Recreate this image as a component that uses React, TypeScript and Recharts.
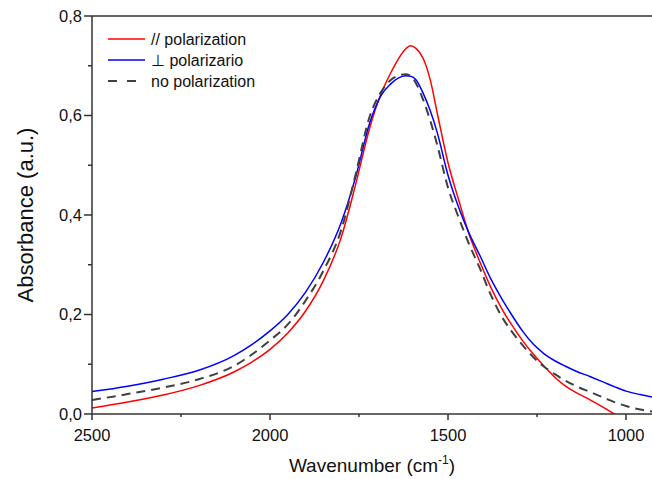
import type { ReactNode } from 'react';
import { Legend, Line, LineChart, ReferenceLine, XAxis, YAxis } from 'recharts';

const FONT = '"Liberation Sans", Arial, sans-serif';
const AXIS = '#333333';

// wavenumber grid (cm-1)
const wavenumbers = [
  2500, 2400, 2300, 2200, 2100, 2050, 2000, 1950, 1900, 1850, 1800, 1760, 1720, 1690, 1660, 1640,
  1620, 1605, 1590, 1570, 1550, 1530, 1500, 1470, 1440, 1410, 1380, 1350, 1320, 1290, 1260,
  1230, 1200, 1170, 1140, 1100, 1060, 1033, 1000, 960, 927,
];

const parallel = [
  0.012, 0.024, 0.038, 0.057, 0.085, 0.105, 0.13, 0.163, 0.207, 0.268, 0.355, 0.46, 0.575, 0.64, 0.687, 0.713,
  0.733, 0.74, 0.735, 0.715, 0.672, 0.604, 0.505, 0.43, 0.36, 0.305, 0.255, 0.213, 0.178, 0.147, 0.12,
  0.096, 0.074, 0.056, 0.043, 0.028, 0.012, 0.0, null, null, null,
];

const perpendicular = [
  0.045, 0.056, 0.07, 0.088, 0.118, 0.14, 0.167, 0.2, 0.245, 0.305, 0.385, 0.475, 0.585, 0.638, 0.664, 0.675,
  0.68, 0.679, 0.672, 0.645, 0.61, 0.565, 0.48, 0.415, 0.362, 0.318, 0.272, 0.233, 0.198, 0.166, 0.14,
  0.121, 0.107, 0.096, 0.086, 0.075, 0.063, 0.055, 0.046, 0.039, 0.034,
];

const unpolarized = [
  0.028, 0.04, 0.053, 0.07, 0.097, 0.12, 0.148, 0.18, 0.228, 0.288, 0.37, 0.48, 0.598, 0.645, 0.672, 0.68,
  0.683, 0.68, 0.665, 0.632, 0.59, 0.54, 0.455, 0.395, 0.34, 0.292, 0.24, 0.197, 0.165, 0.138, 0.114,
  0.095, 0.08, 0.067, 0.056, 0.044, 0.032, 0.024, 0.016, 0.009, 0.005,
];

const xTicks = [2500, 2250, 2000, 1750, 1500, 1250, 1000];
const xMajor = [2500, 2000, 1500, 1000];
const yTicks = [0, 0.1, 0.2, 0.3, 0.4, 0.5, 0.6, 0.7, 0.8];

const data = wavenumbers.map((w, i) => ({
  w,
  par: parallel[i],
  perp: perpendicular[i],
  none: unpolarized[i],
}));

const legendItems = [
  { label: '// polarization', color: '#ff0000', dash: undefined },
  { label: '\u22a5 polarizario', color: '#0000ff', dash: undefined },
  { label: 'no polarization', color: '#404040', dash: '9 10' },
];

function XTick({ x, y, payload }: { x?: number; y?: number; payload?: { value: number } }): ReactNode {
  const v = payload?.value ?? 0;
  const major = xMajor.includes(v);
  return (
    <g>
      <line x1={x} x2={x} y1={y} y2={(y ?? 0) + (major ? 6 : 3)} stroke={AXIS} strokeWidth={1.5} />
      {major && (
        <text x={x} y={(y ?? 0) + 27} textAnchor="middle" fontSize={16.5} fontFamily={FONT} fill="#111">
          {v}
        </text>
      )}
    </g>
  );
}

function YTick({ x, y, payload }: { x?: number; y?: number; payload?: { value: number } }): ReactNode {
  const v = payload?.value ?? 0;
  const major = Math.round(v * 10) % 2 === 0;
  return (
    <g>
      <line x1={(x ?? 0) - (major ? 8 : 4)} x2={x} y1={y} y2={y} stroke={AXIS} strokeWidth={1.5} />
      {major && (
        <text x={(x ?? 0) - 10} y={y} dy="0.36em" textAnchor="end" fontSize={16.5} fontFamily={FONT} fill="#111">
          {v.toFixed(1).replace('.', ',')}
        </text>
      )}
    </g>
  );
}

function LegendBox(): ReactNode {
  return (
    <svg width={200} height={70}>
      {legendItems.map((item, i) => (
        <g key={item.label} transform={`translate(0, ${i * 21})`}>
          <line x1={0} x2={37} y1={10} y2={10} stroke={item.color} strokeWidth={item.dash ? 2 : 1.5} strokeDasharray={item.dash} />
          <text x={43} y={10} dy="0.36em" fontSize={16} fontFamily={FONT} fill="#111">
            {item.label}
          </text>
        </g>
      ))}
    </svg>
  );
}

export default function App(): ReactNode {
  return (
    <div style={{ position: 'absolute', left: 0, top: 0, width: 652, height: 479, background: '#fff' }}>
      <LineChart width={652} height={479} data={data} margin={{ top: 16, right: 0, left: 16, bottom: 15 }}>
        <XAxis
          dataKey="w"
          type="number"
          domain={[927, 2500]}
          reversed
          allowDataOverflow
          ticks={xTicks}
          interval={0}
          tick={<XTick />}
          tickLine={false}
          tickSize={0}
          tickMargin={0}
          height={50}
          axisLine={{ stroke: AXIS, strokeWidth: 1.5 }}
          label={({ viewBox }: { viewBox?: { x: number; y: number; width: number } }) => (
            <text
              x={(viewBox?.x ?? 0) + (viewBox?.width ?? 0) / 2}
              y={(viewBox?.y ?? 0) + 58}
              textAnchor="middle"
              fontSize={19}
              fontFamily={FONT}
              fill="#111"
            >
              Wavenumber (cm
              <tspan fontSize={12} dy={-8}>-1</tspan>
              <tspan dy={8}>)</tspan>
            </text>
          )}
        />
        <YAxis
          type="number"
          domain={[0, 0.8]}
          allowDataOverflow
          ticks={yTicks}
          interval={0}
          tick={<YTick />}
          tickLine={false}
          tickSize={0}
          tickMargin={0}
          width={76}
          axisLine={{ stroke: AXIS, strokeWidth: 1.5 }}
          label={({ viewBox }: { viewBox?: { x: number; y: number; height: number } }) => {
            const cx = 25;
            const cy = (viewBox?.y ?? 0) + (viewBox?.height ?? 0) / 2;
            return (
              <text
                x={cx}
                y={cy}
                transform={`rotate(-90, ${cx}, ${cy})`}
                textAnchor="middle"
                dy="0.36em"
                fontSize={22}
                fontFamily={FONT}
                fill="#111"
              >
                Absorbance (a.u.)
              </text>
            );
          }}
        />
        <ReferenceLine y={0.8} stroke={AXIS} strokeWidth={1.5} />
        <Legend
          layout="horizontal"
          verticalAlign="middle"
          align="center"
          content={<LegendBox />}
          wrapperStyle={{ left: 108, top: 29, width: 200, height: 70 }}
        />
        <Line type="monotone" dataKey="par" stroke="#ff0000" strokeWidth={1.5} dot={false} isAnimationActive={false} />
        <Line type="monotone" dataKey="perp" stroke="#0000ff" strokeWidth={1.5} dot={false} isAnimationActive={false} />
        <Line type="monotone" dataKey="none" stroke="#404040" strokeWidth={2} strokeDasharray="9 6" dot={false} isAnimationActive={false} />
      </LineChart>
    </div>
  );
}
